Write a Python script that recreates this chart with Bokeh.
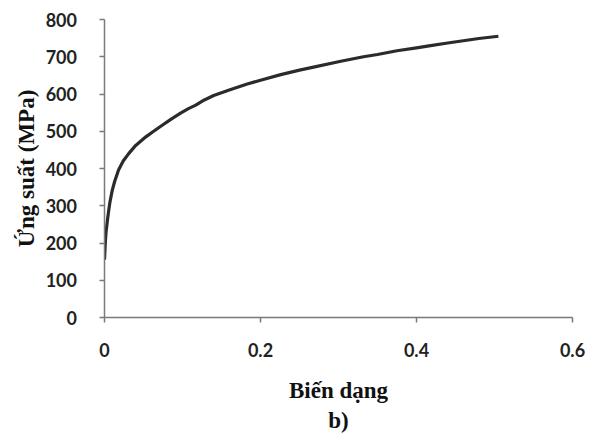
from bokeh.plotting import figure
from bokeh.models import Range1d, FixedTicker
from bokeh.embed import file_html
from bokeh.resources import INLINE

# Data (strain vs. stress)
strain = [0.0, 0.001, 0.002, 0.004, 0.0055, 0.007, 0.010, 0.013, 0.018, 0.024,
          0.031, 0.040, 0.053, 0.063, 0.074, 0.085, 0.097, 0.107, 0.117, 0.128,
          0.140, 0.160, 0.183, 0.200, 0.226, 0.250, 0.268, 0.303, 0.332, 0.350,
          0.375, 0.400, 0.418, 0.440, 0.460, 0.480, 0.505]
stress = [155, 200, 230, 265, 289, 310, 342, 365, 396, 420,
          440, 462, 485, 500, 516, 532, 548, 560, 570, 584,
          596, 611, 627, 637, 652, 664, 672, 688, 700, 706,
          716, 724, 730, 737, 743, 749, 755]

x_ticks = [0, 0.2, 0.4, 0.6]
x_tick_labels = ["0", "0.2", "0.4", "0.6"]
y_ticks = [0, 100, 200, 300, 400, 500, 600, 700, 800]
y_tick_labels = ["0", "100", "200", "300", "400", "500", "600", "700", "800"]

p = figure(width=597, height=435, output_backend="svg", toolbar_location=None,
           x_range=Range1d(0, 0.6), y_range=Range1d(0, 800),
           min_border_left=104, min_border_right=25, min_border_top=19, min_border_bottom=117)
p.outline_line_color = None
p.grid.grid_line_color = None
p.background_fill_color = "white"
p.border_fill_color = "white"

p.line(strain, stress, line_color="#2b2b2b", line_width=3.2, line_join="round")

xa = p.xaxis[0]
ya = p.yaxis[0]
for ax in (xa, ya):
    ax.axis_line_color = "#7a7a7a"
    ax.axis_line_width = 1.5
    ax.major_tick_line_color = "#7a7a7a"
    ax.major_tick_line_width = 1.5
    ax.major_tick_in = 0
    ax.major_tick_out = 5
    ax.minor_tick_line_color = None
    ax.major_label_text_font = "Lato"
    ax.major_label_text_font_style = "bold"
    ax.major_label_text_font_size = "18px"
    ax.major_label_text_color = "#222222"
    ax.axis_label_text_font = "Liberation Serif"
    ax.axis_label_text_font_style = "bold"
    ax.axis_label_text_font_size = "23px"
    ax.axis_label_text_color = "#111111"

xa.ticker = FixedTicker(ticks=x_ticks)
xa.major_label_overrides = {t: s for t, s in zip(x_ticks, x_tick_labels)}
xa.major_label_standoff = 20
xa.axis_label = "Biến dạng\nb)"
xa.axis_label_standoff = 18

ya.ticker = FixedTicker(ticks=y_ticks)
pad = "\u00a0" * 4
ya.major_label_overrides = {t: s + pad for t, s in zip(y_ticks, y_tick_labels)}
ya.major_label_standoff = 5
ya.axis_label = "Ứng suất (MPa)"
ya.axis_label_standoff = 4

open("out.html", "w").write(file_html(p, INLINE))
